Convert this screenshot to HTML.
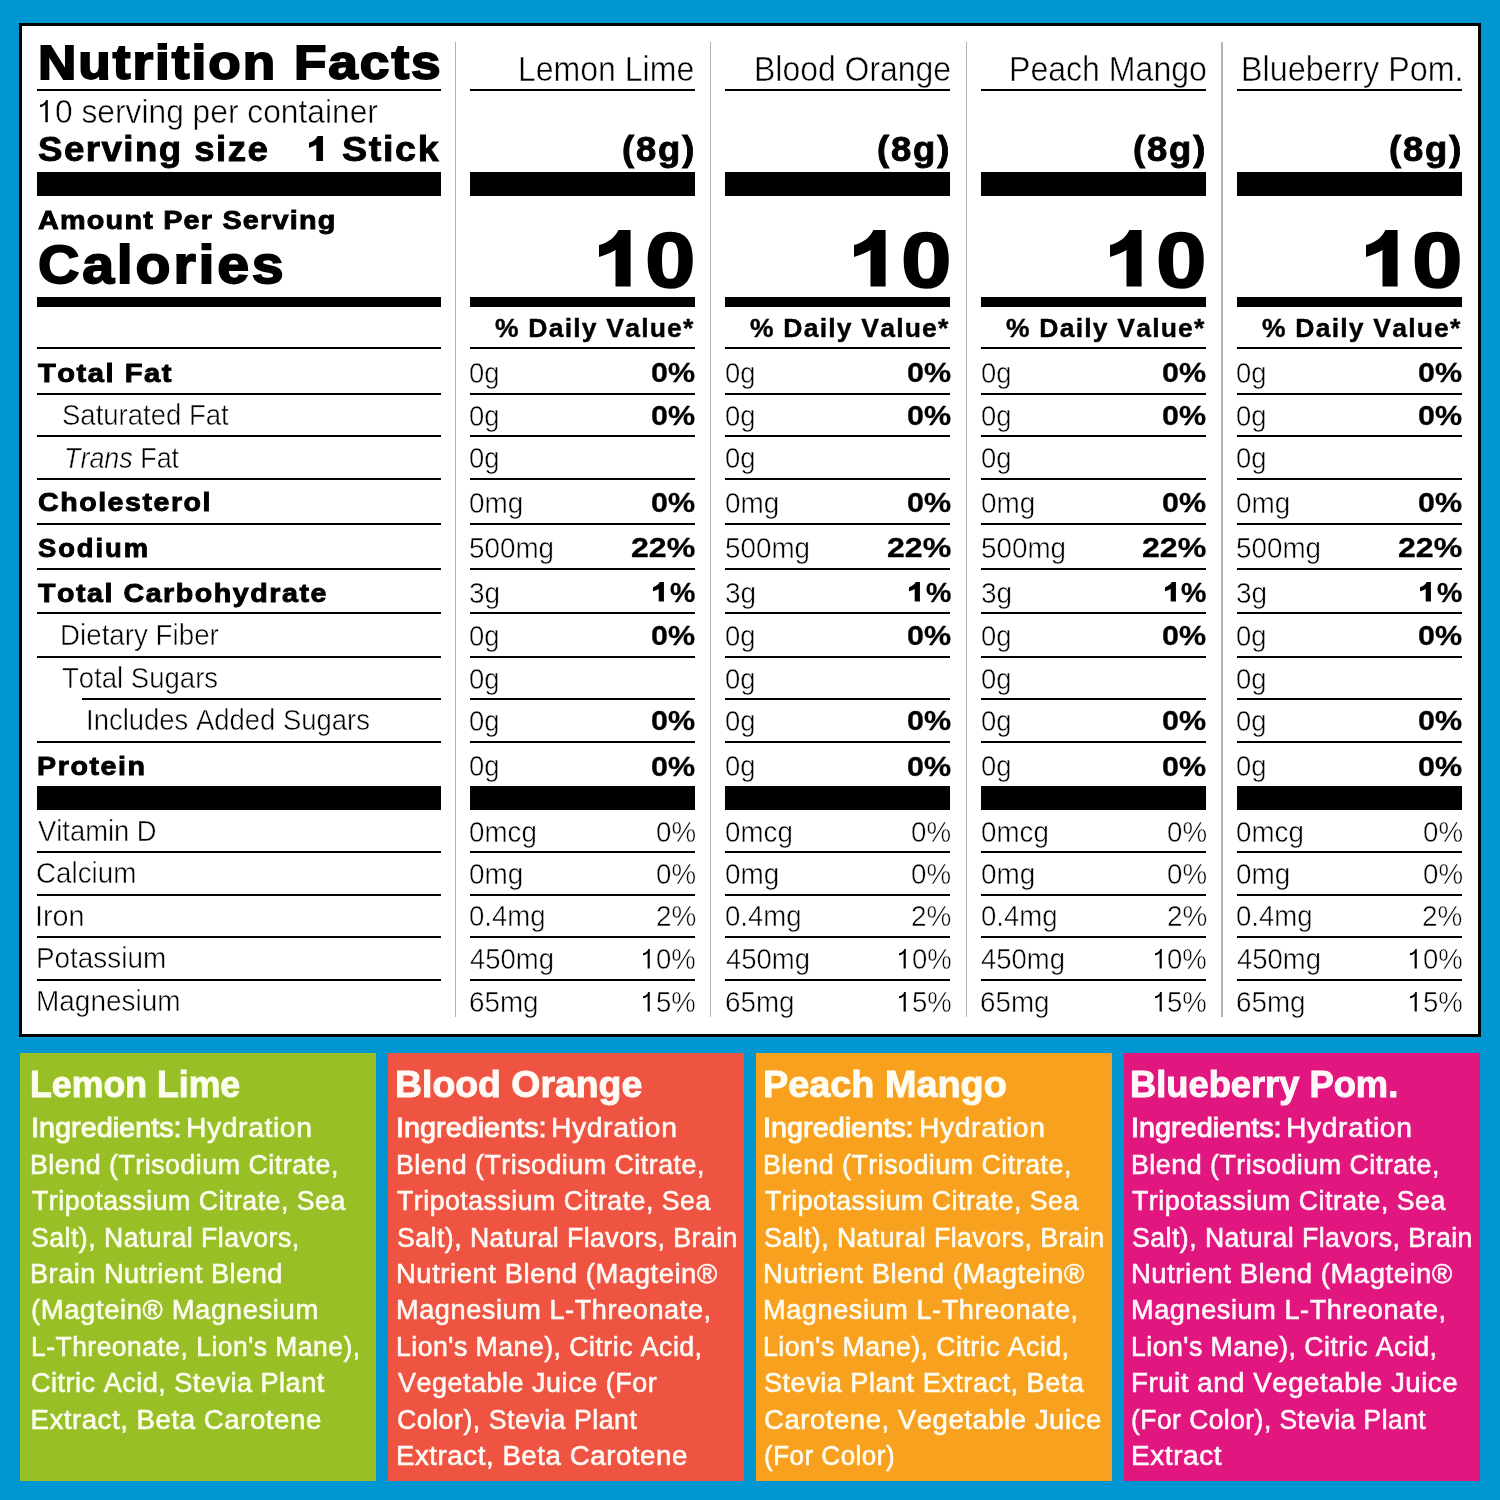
<!DOCTYPE html>
<html><head><meta charset="utf-8"><style>
html,body{margin:0;padding:0;}
body{width:1500px;height:1500px;position:relative;overflow:hidden;background:#0096d1;font-family:"Liberation Sans",sans-serif;color:#000;font-kerning:none;}
.t{position:absolute;white-space:nowrap;transform-origin:0 0;}
#L{position:absolute;left:0;top:0;width:1500px;height:1500px;will-change:transform;}
.b{position:absolute;}
#panel{position:absolute;left:19px;top:23px;width:1456px;height:1008px;border:3px solid #000;background:#fff;}
</style></head><body>
<div id="panel"></div>
<div id="L">
<div class="t" style="left:37.75px;top:38.90px;font-size:47.68px;line-height:47.68px;font-weight:bold;transform:scaleX(1.1139);letter-spacing:1.791px;-webkit-text-stroke:1.80px #000;">Nutrition Facts</div>
<div class="b" style="left:37.00px;top:89.20px;width:403.80px;height:2.20px;background:#000;"></div>
<svg class="b" style="left:38.00px;top:97.70px;" width="11.82" height="26.30" viewBox="38.00 97.70 11.82 26.30"><path d="M47.82,99.70 L46.09,99.70 C45.63,101.88 42.99,104.18 40.00,104.53 L40.00,106.83 C42.64,106.60 44.48,105.45 45.29,104.30 L45.29,122.00 L47.82,122.00 Z" fill="#000"/></svg>
<div class="t" style="left:54.82px;top:95.25px;font-size:32.99px;line-height:32.99px;transform:scaleX(0.9622);-webkit-text-stroke:0.50px #fff;">0 serving per container</div>
<div class="t" style="left:37.81px;top:130.95px;font-size:35.32px;line-height:35.32px;font-weight:bold;transform:scaleX(1.0381);letter-spacing:1.401px;-webkit-text-stroke:0.90px #000;">Serving size</div>
<svg class="b" style="left:307.00px;top:134.10px;" width="18.01" height="29.10" viewBox="307.00 134.10 18.01 29.10"><path d="M317.60,136.10 C316.45,138.81 313.52,141.69 309.00,142.80 L309.00,148.07 C312.19,147.10 314.68,145.94 316.32,144.97 L316.32,161.20 L323.01,161.20 L323.01,136.10 Z" fill="#000"/></svg>
<div class="t" style="left:342.40px;top:130.95px;font-size:35.32px;line-height:35.32px;font-weight:bold;transform:scaleX(1.0641);letter-spacing:1.587px;-webkit-text-stroke:0.90px #000;">Stick</div>
<div class="b" style="left:37.00px;top:172.20px;width:403.80px;height:23.60px;background:#000;"></div>
<div class="t" style="left:37.97px;top:206.75px;font-size:26.60px;line-height:26.60px;font-weight:bold;transform:scaleX(1.0820);letter-spacing:1.125px;-webkit-text-stroke:0.90px #000;">Amount Per Serving</div>
<div class="t" style="left:38.11px;top:238.30px;font-size:53.49px;line-height:53.49px;font-weight:bold;transform:scaleX(1.0722);letter-spacing:2.590px;-webkit-text-stroke:1.80px #000;">Calories</div>
<div class="b" style="left:37.00px;top:297.30px;width:403.80px;height:9.40px;background:#000;"></div>
<div class="b" style="left:37.00px;top:347.20px;width:403.80px;height:2.20px;background:#000;"></div>
<div class="b" style="left:37.00px;top:392.50px;width:403.80px;height:2.20px;background:#000;"></div>
<div class="b" style="left:37.00px;top:434.60px;width:403.80px;height:2.20px;background:#000;"></div>
<div class="b" style="left:37.00px;top:477.60px;width:403.80px;height:2.20px;background:#000;"></div>
<div class="b" style="left:37.00px;top:522.60px;width:403.80px;height:2.20px;background:#000;"></div>
<div class="b" style="left:37.00px;top:567.60px;width:403.80px;height:2.20px;background:#000;"></div>
<div class="b" style="left:37.00px;top:612.20px;width:403.80px;height:2.20px;background:#000;"></div>
<div class="b" style="left:37.00px;top:655.60px;width:403.80px;height:2.20px;background:#000;"></div>
<div class="b" style="left:82.30px;top:698.00px;width:358.50px;height:2.20px;background:#000;"></div>
<div class="b" style="left:37.00px;top:740.60px;width:403.80px;height:2.20px;background:#000;"></div>
<div class="b" style="left:37.00px;top:786.30px;width:403.80px;height:23.40px;background:#000;"></div>
<div class="b" style="left:37.00px;top:850.90px;width:403.80px;height:2.20px;background:#000;"></div>
<div class="b" style="left:37.00px;top:893.60px;width:403.80px;height:2.20px;background:#000;"></div>
<div class="b" style="left:37.00px;top:936.20px;width:403.80px;height:2.20px;background:#000;"></div>
<div class="b" style="left:37.00px;top:978.60px;width:403.80px;height:2.20px;background:#000;"></div>
<div class="t" style="left:38.37px;top:359.75px;font-size:26.60px;line-height:26.60px;font-weight:bold;transform:scaleX(1.0951);letter-spacing:1.374px;-webkit-text-stroke:0.90px #000;">Total Fat</div>
<div class="t" style="left:61.62px;top:400.25px;font-size:29.80px;line-height:29.80px;transform:scaleX(0.9234);-webkit-text-stroke:0.50px #fff;">Saturated Fat</div>
<div class="t" style="left:63.56px;top:442.65px;font-size:29.80px;line-height:29.80px;transform:scaleX(0.9025);-webkit-text-stroke:0.5px #fff;"><i>Trans</i> Fat</div>
<div class="t" style="left:37.51px;top:489.45px;font-size:26.60px;line-height:26.60px;font-weight:bold;transform:scaleX(1.0744);letter-spacing:1.427px;-webkit-text-stroke:0.90px #000;">Cholesterol</div>
<div class="t" style="left:37.87px;top:534.95px;font-size:26.60px;line-height:26.60px;font-weight:bold;transform:scaleX(1.0284);letter-spacing:1.899px;-webkit-text-stroke:0.90px #000;">Sodium</div>
<div class="t" style="left:38.36px;top:579.75px;font-size:26.60px;line-height:26.60px;font-weight:bold;transform:scaleX(1.0764);letter-spacing:1.417px;-webkit-text-stroke:0.90px #000;">Total Carbohydrate</div>
<div class="t" style="left:60.39px;top:620.45px;font-size:29.80px;line-height:29.80px;transform:scaleX(0.9311);-webkit-text-stroke:0.50px #fff;">Dietary Fiber</div>
<div class="t" style="left:62.05px;top:663.25px;font-size:29.80px;line-height:29.80px;transform:scaleX(0.9239);-webkit-text-stroke:0.50px #fff;">Total Sugars</div>
<div class="t" style="left:86.14px;top:705.45px;font-size:29.80px;line-height:29.80px;transform:scaleX(0.9217);-webkit-text-stroke:0.50px #fff;">Includes Added Sugars</div>
<div class="t" style="left:37.17px;top:753.05px;font-size:26.60px;line-height:26.60px;font-weight:bold;transform:scaleX(1.0765);letter-spacing:1.469px;-webkit-text-stroke:0.90px #000;">Protein</div>
<div class="t" style="left:37.75px;top:816.05px;font-size:29.80px;line-height:29.80px;transform:scaleX(0.9182);-webkit-text-stroke:0.50px #fff;">Vitamin D</div>
<div class="t" style="left:36.45px;top:858.45px;font-size:29.80px;line-height:29.80px;transform:scaleX(0.9330);-webkit-text-stroke:0.50px #fff;">Calcium</div>
<div class="t" style="left:35.20px;top:900.85px;font-size:29.80px;line-height:29.80px;transform:scaleX(0.9662);-webkit-text-stroke:0.50px #fff;">Iron</div>
<div class="t" style="left:35.58px;top:943.25px;font-size:29.80px;line-height:29.80px;transform:scaleX(0.9359);-webkit-text-stroke:0.50px #fff;">Potassium</div>
<div class="t" style="left:35.57px;top:986.15px;font-size:29.80px;line-height:29.80px;transform:scaleX(0.9382);-webkit-text-stroke:0.50px #fff;">Magnesium</div>
<div class="b" style="left:454.60px;top:41.70px;width:1.20px;height:975.50px;background:#b4b4b4;"></div>
<div class="b" style="left:710.10px;top:41.70px;width:1.20px;height:975.50px;background:#b4b4b4;"></div>
<div class="b" style="left:965.80px;top:41.70px;width:1.20px;height:975.50px;background:#b4b4b4;"></div>
<div class="b" style="left:1221.40px;top:41.70px;width:1.20px;height:975.50px;background:#b4b4b4;"></div>
<div class="t" style="left:518.44px;top:52.25px;font-size:34.16px;line-height:34.16px;transform:scaleX(0.9375);-webkit-text-stroke:0.50px #fff;">Lemon Lime</div>
<div class="b" style="left:469.70px;top:89.20px;width:225.00px;height:2.20px;background:#000;"></div>
<div class="t" style="left:621.67px;top:132.15px;font-size:34.18px;line-height:34.18px;font-weight:bold;transform:scaleX(1.0646);letter-spacing:1.743px;-webkit-text-stroke:0.90px #000;">(8g)</div>
<div class="b" style="left:469.70px;top:172.20px;width:225.00px;height:23.60px;background:#000;"></div>
<svg class="b" style="left:596.80px;top:228.40px;" width="35.60" height="60.60" viewBox="596.80 228.40 35.60 60.60"><path d="M618.20,230.40 C615.60,236.50 609.00,243.00 598.80,245.50 L598.80,257.40 C606.00,255.20 611.60,252.60 615.30,250.40 L615.30,287.00 L630.40,287.00 L630.40,230.40 Z" fill="#000"/></svg>
<div class="t" style="left:644.94px;top:221.80px;font-size:77.97px;line-height:77.97px;font-weight:bold;transform:scaleX(1.1660);-webkit-text-stroke:1.60px #000;">0</div>
<div class="b" style="left:469.70px;top:297.30px;width:225.00px;height:9.40px;background:#000;"></div>
<div class="t" style="left:494.75px;top:315.80px;font-size:25.00px;line-height:25.00px;font-weight:bold;transform:scaleX(1.0592);letter-spacing:1.151px;-webkit-text-stroke:0.40px #000;">% Daily Value*</div>
<div class="b" style="left:469.70px;top:347.20px;width:225.00px;height:2.20px;background:#000;"></div>
<div class="b" style="left:469.70px;top:392.50px;width:225.00px;height:2.20px;background:#000;"></div>
<div class="b" style="left:469.70px;top:434.60px;width:225.00px;height:2.20px;background:#000;"></div>
<div class="b" style="left:469.70px;top:477.60px;width:225.00px;height:2.20px;background:#000;"></div>
<div class="b" style="left:469.70px;top:522.60px;width:225.00px;height:2.20px;background:#000;"></div>
<div class="b" style="left:469.70px;top:567.60px;width:225.00px;height:2.20px;background:#000;"></div>
<div class="b" style="left:469.70px;top:612.20px;width:225.00px;height:2.20px;background:#000;"></div>
<div class="b" style="left:469.70px;top:655.60px;width:225.00px;height:2.20px;background:#000;"></div>
<div class="b" style="left:469.70px;top:698.00px;width:225.00px;height:2.20px;background:#000;"></div>
<div class="b" style="left:469.70px;top:740.60px;width:225.00px;height:2.20px;background:#000;"></div>
<div class="b" style="left:469.70px;top:786.30px;width:225.00px;height:23.40px;background:#000;"></div>
<div class="b" style="left:469.70px;top:850.90px;width:225.00px;height:2.20px;background:#000;"></div>
<div class="b" style="left:469.70px;top:893.60px;width:225.00px;height:2.20px;background:#000;"></div>
<div class="b" style="left:469.70px;top:936.20px;width:225.00px;height:2.20px;background:#000;"></div>
<div class="b" style="left:469.70px;top:978.60px;width:225.00px;height:2.20px;background:#000;"></div>
<div class="t" style="left:469.49px;top:358.85px;font-size:28.67px;line-height:28.67px;transform:scaleX(0.9569);-webkit-text-stroke:0.50px #fff;">0g</div>
<div class="t" style="left:651.26px;top:359.25px;font-size:27.82px;line-height:27.82px;font-weight:bold;transform:scaleX(1.0961);-webkit-text-stroke:0.30px #000;">0%</div>
<div class="t" style="left:469.49px;top:401.65px;font-size:28.67px;line-height:28.67px;transform:scaleX(0.9569);-webkit-text-stroke:0.50px #fff;">0g</div>
<div class="t" style="left:651.26px;top:402.05px;font-size:27.82px;line-height:27.82px;font-weight:bold;transform:scaleX(1.0961);-webkit-text-stroke:0.30px #000;">0%</div>
<div class="t" style="left:469.49px;top:444.05px;font-size:28.67px;line-height:28.67px;transform:scaleX(0.9569);-webkit-text-stroke:0.50px #fff;">0g</div>
<div class="t" style="left:469.46px;top:488.55px;font-size:28.67px;line-height:28.67px;transform:scaleX(0.9750);-webkit-text-stroke:0.50px #fff;">0mg</div>
<div class="t" style="left:651.26px;top:488.95px;font-size:27.82px;line-height:27.82px;font-weight:bold;transform:scaleX(1.0961);-webkit-text-stroke:0.30px #000;">0%</div>
<div class="t" style="left:469.44px;top:534.05px;font-size:28.67px;line-height:28.67px;transform:scaleX(0.9706);-webkit-text-stroke:0.50px #fff;">500mg</div>
<div class="t" style="left:631.06px;top:534.45px;font-size:27.82px;line-height:27.82px;font-weight:bold;transform:scaleX(1.1549);-webkit-text-stroke:0.30px #000;">22%</div>
<div class="t" style="left:469.49px;top:578.85px;font-size:28.67px;line-height:28.67px;transform:scaleX(0.9771);-webkit-text-stroke:0.50px #fff;">3g</div>
<svg class="b" style="left:651.30px;top:580.40px;" width="14.94" height="23.60" viewBox="651.30 580.40 14.94 23.60"><path d="M660.02,582.40 C659.12,584.51 656.83,586.76 653.30,587.63 L653.30,591.75 C655.79,590.99 657.73,590.09 659.01,589.33 L659.01,602.00 L664.24,602.00 L664.24,582.40 Z" fill="#000"/></svg>
<div class="t" style="left:669.94px;top:579.25px;font-size:27.82px;line-height:27.82px;font-weight:bold;transform:scaleX(1.0248);-webkit-text-stroke:0.30px #000;">%</div>
<div class="t" style="left:469.49px;top:621.85px;font-size:28.67px;line-height:28.67px;transform:scaleX(0.9569);-webkit-text-stroke:0.50px #fff;">0g</div>
<div class="t" style="left:651.26px;top:622.25px;font-size:27.82px;line-height:27.82px;font-weight:bold;transform:scaleX(1.0961);-webkit-text-stroke:0.30px #000;">0%</div>
<div class="t" style="left:469.49px;top:664.65px;font-size:28.67px;line-height:28.67px;transform:scaleX(0.9569);-webkit-text-stroke:0.50px #fff;">0g</div>
<div class="t" style="left:469.49px;top:706.85px;font-size:28.67px;line-height:28.67px;transform:scaleX(0.9569);-webkit-text-stroke:0.50px #fff;">0g</div>
<div class="t" style="left:651.26px;top:707.25px;font-size:27.82px;line-height:27.82px;font-weight:bold;transform:scaleX(1.0961);-webkit-text-stroke:0.30px #000;">0%</div>
<div class="t" style="left:469.49px;top:752.15px;font-size:28.67px;line-height:28.67px;transform:scaleX(0.9569);-webkit-text-stroke:0.50px #fff;">0g</div>
<div class="t" style="left:651.26px;top:752.55px;font-size:27.82px;line-height:27.82px;font-weight:bold;transform:scaleX(1.0961);-webkit-text-stroke:0.30px #000;">0%</div>
<div class="t" style="left:469.47px;top:817.65px;font-size:28.67px;line-height:28.67px;transform:scaleX(0.9678);-webkit-text-stroke:0.50px #fff;">0mcg</div>
<div class="t" style="left:655.88px;top:817.65px;font-size:28.67px;line-height:28.67px;transform:scaleX(0.9665);-webkit-text-stroke:0.50px #fff;">0%</div>
<div class="t" style="left:469.46px;top:860.05px;font-size:28.67px;line-height:28.67px;transform:scaleX(0.9750);-webkit-text-stroke:0.50px #fff;">0mg</div>
<div class="t" style="left:655.88px;top:860.05px;font-size:28.67px;line-height:28.67px;transform:scaleX(0.9665);-webkit-text-stroke:0.50px #fff;">0%</div>
<div class="t" style="left:469.48px;top:902.45px;font-size:28.67px;line-height:28.67px;transform:scaleX(0.9630);-webkit-text-stroke:0.50px #fff;">0.4mg</div>
<div class="t" style="left:655.55px;top:902.45px;font-size:28.67px;line-height:28.67px;transform:scaleX(0.9746);-webkit-text-stroke:0.50px #fff;">2%</div>
<div class="t" style="left:469.93px;top:944.85px;font-size:28.67px;line-height:28.67px;transform:scaleX(0.9591);-webkit-text-stroke:0.50px #fff;">450mg</div>
<svg class="b" style="left:641.40px;top:947.20px;" width="10.80" height="23.40" viewBox="641.40 947.20 10.80 23.40"><path d="M650.20,949.20 L648.70,949.20 C648.30,951.10 646.00,953.10 643.40,953.40 L643.40,955.40 C645.70,955.20 647.30,954.20 648.00,953.20 L648.00,968.60 L650.20,968.60 Z" fill="#000"/></svg>
<div class="t" style="left:656.08px;top:944.85px;font-size:28.67px;line-height:28.67px;transform:scaleX(0.9614);-webkit-text-stroke:0.50px #fff;">0%</div>
<div class="t" style="left:469.14px;top:987.75px;font-size:28.67px;line-height:28.67px;transform:scaleX(0.9703);-webkit-text-stroke:0.50px #fff;">65mg</div>
<svg class="b" style="left:641.40px;top:990.10px;" width="10.80" height="23.40" viewBox="641.40 990.10 10.80 23.40"><path d="M650.20,992.10 L648.70,992.10 C648.30,994.00 646.00,996.00 643.40,996.30 L643.40,998.30 C645.70,998.10 647.30,997.10 648.00,996.10 L648.00,1011.50 L650.20,1011.50 Z" fill="#000"/></svg>
<div class="t" style="left:656.06px;top:987.75px;font-size:28.67px;line-height:28.67px;transform:scaleX(0.9621);-webkit-text-stroke:0.50px #fff;">5%</div>
<div class="t" style="left:753.55px;top:52.25px;font-size:34.16px;line-height:34.16px;transform:scaleX(0.9351);-webkit-text-stroke:0.50px #fff;">Blood Orange</div>
<div class="b" style="left:725.30px;top:89.20px;width:225.00px;height:2.20px;background:#000;"></div>
<div class="t" style="left:877.27px;top:132.15px;font-size:34.18px;line-height:34.18px;font-weight:bold;transform:scaleX(1.0646);letter-spacing:1.743px;-webkit-text-stroke:0.90px #000;">(8g)</div>
<div class="b" style="left:725.30px;top:172.20px;width:225.00px;height:23.60px;background:#000;"></div>
<svg class="b" style="left:852.40px;top:228.40px;" width="35.60" height="60.60" viewBox="852.40 228.40 35.60 60.60"><path d="M873.80,230.40 C871.20,236.50 864.60,243.00 854.40,245.50 L854.40,257.40 C861.60,255.20 867.20,252.60 870.90,250.40 L870.90,287.00 L886.00,287.00 L886.00,230.40 Z" fill="#000"/></svg>
<div class="t" style="left:900.54px;top:221.80px;font-size:77.97px;line-height:77.97px;font-weight:bold;transform:scaleX(1.1660);-webkit-text-stroke:1.60px #000;">0</div>
<div class="b" style="left:725.30px;top:297.30px;width:225.00px;height:9.40px;background:#000;"></div>
<div class="t" style="left:750.35px;top:315.80px;font-size:25.00px;line-height:25.00px;font-weight:bold;transform:scaleX(1.0592);letter-spacing:1.151px;-webkit-text-stroke:0.40px #000;">% Daily Value*</div>
<div class="b" style="left:725.30px;top:347.20px;width:225.00px;height:2.20px;background:#000;"></div>
<div class="b" style="left:725.30px;top:392.50px;width:225.00px;height:2.20px;background:#000;"></div>
<div class="b" style="left:725.30px;top:434.60px;width:225.00px;height:2.20px;background:#000;"></div>
<div class="b" style="left:725.30px;top:477.60px;width:225.00px;height:2.20px;background:#000;"></div>
<div class="b" style="left:725.30px;top:522.60px;width:225.00px;height:2.20px;background:#000;"></div>
<div class="b" style="left:725.30px;top:567.60px;width:225.00px;height:2.20px;background:#000;"></div>
<div class="b" style="left:725.30px;top:612.20px;width:225.00px;height:2.20px;background:#000;"></div>
<div class="b" style="left:725.30px;top:655.60px;width:225.00px;height:2.20px;background:#000;"></div>
<div class="b" style="left:725.30px;top:698.00px;width:225.00px;height:2.20px;background:#000;"></div>
<div class="b" style="left:725.30px;top:740.60px;width:225.00px;height:2.20px;background:#000;"></div>
<div class="b" style="left:725.30px;top:786.30px;width:225.00px;height:23.40px;background:#000;"></div>
<div class="b" style="left:725.30px;top:850.90px;width:225.00px;height:2.20px;background:#000;"></div>
<div class="b" style="left:725.30px;top:893.60px;width:225.00px;height:2.20px;background:#000;"></div>
<div class="b" style="left:725.30px;top:936.20px;width:225.00px;height:2.20px;background:#000;"></div>
<div class="b" style="left:725.30px;top:978.60px;width:225.00px;height:2.20px;background:#000;"></div>
<div class="t" style="left:725.09px;top:358.85px;font-size:28.67px;line-height:28.67px;transform:scaleX(0.9569);-webkit-text-stroke:0.50px #fff;">0g</div>
<div class="t" style="left:906.86px;top:359.25px;font-size:27.82px;line-height:27.82px;font-weight:bold;transform:scaleX(1.0961);-webkit-text-stroke:0.30px #000;">0%</div>
<div class="t" style="left:725.09px;top:401.65px;font-size:28.67px;line-height:28.67px;transform:scaleX(0.9569);-webkit-text-stroke:0.50px #fff;">0g</div>
<div class="t" style="left:906.86px;top:402.05px;font-size:27.82px;line-height:27.82px;font-weight:bold;transform:scaleX(1.0961);-webkit-text-stroke:0.30px #000;">0%</div>
<div class="t" style="left:725.09px;top:444.05px;font-size:28.67px;line-height:28.67px;transform:scaleX(0.9569);-webkit-text-stroke:0.50px #fff;">0g</div>
<div class="t" style="left:725.06px;top:488.55px;font-size:28.67px;line-height:28.67px;transform:scaleX(0.9750);-webkit-text-stroke:0.50px #fff;">0mg</div>
<div class="t" style="left:906.86px;top:488.95px;font-size:27.82px;line-height:27.82px;font-weight:bold;transform:scaleX(1.0961);-webkit-text-stroke:0.30px #000;">0%</div>
<div class="t" style="left:725.04px;top:534.05px;font-size:28.67px;line-height:28.67px;transform:scaleX(0.9706);-webkit-text-stroke:0.50px #fff;">500mg</div>
<div class="t" style="left:886.66px;top:534.45px;font-size:27.82px;line-height:27.82px;font-weight:bold;transform:scaleX(1.1549);-webkit-text-stroke:0.30px #000;">22%</div>
<div class="t" style="left:725.09px;top:578.85px;font-size:28.67px;line-height:28.67px;transform:scaleX(0.9771);-webkit-text-stroke:0.50px #fff;">3g</div>
<svg class="b" style="left:906.90px;top:580.40px;" width="14.94" height="23.60" viewBox="906.90 580.40 14.94 23.60"><path d="M915.62,582.40 C914.72,584.51 912.43,586.76 908.90,587.63 L908.90,591.75 C911.39,590.99 913.33,590.09 914.61,589.33 L914.61,602.00 L919.84,602.00 L919.84,582.40 Z" fill="#000"/></svg>
<div class="t" style="left:925.54px;top:579.25px;font-size:27.82px;line-height:27.82px;font-weight:bold;transform:scaleX(1.0248);-webkit-text-stroke:0.30px #000;">%</div>
<div class="t" style="left:725.09px;top:621.85px;font-size:28.67px;line-height:28.67px;transform:scaleX(0.9569);-webkit-text-stroke:0.50px #fff;">0g</div>
<div class="t" style="left:906.86px;top:622.25px;font-size:27.82px;line-height:27.82px;font-weight:bold;transform:scaleX(1.0961);-webkit-text-stroke:0.30px #000;">0%</div>
<div class="t" style="left:725.09px;top:664.65px;font-size:28.67px;line-height:28.67px;transform:scaleX(0.9569);-webkit-text-stroke:0.50px #fff;">0g</div>
<div class="t" style="left:725.09px;top:706.85px;font-size:28.67px;line-height:28.67px;transform:scaleX(0.9569);-webkit-text-stroke:0.50px #fff;">0g</div>
<div class="t" style="left:906.86px;top:707.25px;font-size:27.82px;line-height:27.82px;font-weight:bold;transform:scaleX(1.0961);-webkit-text-stroke:0.30px #000;">0%</div>
<div class="t" style="left:725.09px;top:752.15px;font-size:28.67px;line-height:28.67px;transform:scaleX(0.9569);-webkit-text-stroke:0.50px #fff;">0g</div>
<div class="t" style="left:906.86px;top:752.55px;font-size:27.82px;line-height:27.82px;font-weight:bold;transform:scaleX(1.0961);-webkit-text-stroke:0.30px #000;">0%</div>
<div class="t" style="left:725.07px;top:817.65px;font-size:28.67px;line-height:28.67px;transform:scaleX(0.9678);-webkit-text-stroke:0.50px #fff;">0mcg</div>
<div class="t" style="left:911.48px;top:817.65px;font-size:28.67px;line-height:28.67px;transform:scaleX(0.9665);-webkit-text-stroke:0.50px #fff;">0%</div>
<div class="t" style="left:725.06px;top:860.05px;font-size:28.67px;line-height:28.67px;transform:scaleX(0.9750);-webkit-text-stroke:0.50px #fff;">0mg</div>
<div class="t" style="left:911.48px;top:860.05px;font-size:28.67px;line-height:28.67px;transform:scaleX(0.9665);-webkit-text-stroke:0.50px #fff;">0%</div>
<div class="t" style="left:725.08px;top:902.45px;font-size:28.67px;line-height:28.67px;transform:scaleX(0.9630);-webkit-text-stroke:0.50px #fff;">0.4mg</div>
<div class="t" style="left:911.15px;top:902.45px;font-size:28.67px;line-height:28.67px;transform:scaleX(0.9746);-webkit-text-stroke:0.50px #fff;">2%</div>
<div class="t" style="left:725.53px;top:944.85px;font-size:28.67px;line-height:28.67px;transform:scaleX(0.9591);-webkit-text-stroke:0.50px #fff;">450mg</div>
<svg class="b" style="left:897.00px;top:947.20px;" width="10.80" height="23.40" viewBox="897.00 947.20 10.80 23.40"><path d="M905.80,949.20 L904.30,949.20 C903.90,951.10 901.60,953.10 899.00,953.40 L899.00,955.40 C901.30,955.20 902.90,954.20 903.60,953.20 L903.60,968.60 L905.80,968.60 Z" fill="#000"/></svg>
<div class="t" style="left:911.68px;top:944.85px;font-size:28.67px;line-height:28.67px;transform:scaleX(0.9614);-webkit-text-stroke:0.50px #fff;">0%</div>
<div class="t" style="left:724.74px;top:987.75px;font-size:28.67px;line-height:28.67px;transform:scaleX(0.9703);-webkit-text-stroke:0.50px #fff;">65mg</div>
<svg class="b" style="left:897.00px;top:990.10px;" width="10.80" height="23.40" viewBox="897.00 990.10 10.80 23.40"><path d="M905.80,992.10 L904.30,992.10 C903.90,994.00 901.60,996.00 899.00,996.30 L899.00,998.30 C901.30,998.10 902.90,997.10 903.60,996.10 L903.60,1011.50 L905.80,1011.50 Z" fill="#000"/></svg>
<div class="t" style="left:911.66px;top:987.75px;font-size:28.67px;line-height:28.67px;transform:scaleX(0.9621);-webkit-text-stroke:0.50px #fff;">5%</div>
<div class="t" style="left:1008.63px;top:52.25px;font-size:34.16px;line-height:34.16px;transform:scaleX(0.9391);-webkit-text-stroke:0.50px #fff;">Peach Mango</div>
<div class="b" style="left:980.90px;top:89.20px;width:225.00px;height:2.20px;background:#000;"></div>
<div class="t" style="left:1132.87px;top:132.15px;font-size:34.18px;line-height:34.18px;font-weight:bold;transform:scaleX(1.0646);letter-spacing:1.743px;-webkit-text-stroke:0.90px #000;">(8g)</div>
<div class="b" style="left:980.90px;top:172.20px;width:225.00px;height:23.60px;background:#000;"></div>
<svg class="b" style="left:1108.00px;top:228.40px;" width="35.60" height="60.60" viewBox="1108.00 228.40 35.60 60.60"><path d="M1129.40,230.40 C1126.80,236.50 1120.20,243.00 1110.00,245.50 L1110.00,257.40 C1117.20,255.20 1122.80,252.60 1126.50,250.40 L1126.50,287.00 L1141.60,287.00 L1141.60,230.40 Z" fill="#000"/></svg>
<div class="t" style="left:1156.14px;top:221.80px;font-size:77.97px;line-height:77.97px;font-weight:bold;transform:scaleX(1.1660);-webkit-text-stroke:1.60px #000;">0</div>
<div class="b" style="left:980.90px;top:297.30px;width:225.00px;height:9.40px;background:#000;"></div>
<div class="t" style="left:1005.95px;top:315.80px;font-size:25.00px;line-height:25.00px;font-weight:bold;transform:scaleX(1.0592);letter-spacing:1.151px;-webkit-text-stroke:0.40px #000;">% Daily Value*</div>
<div class="b" style="left:980.90px;top:347.20px;width:225.00px;height:2.20px;background:#000;"></div>
<div class="b" style="left:980.90px;top:392.50px;width:225.00px;height:2.20px;background:#000;"></div>
<div class="b" style="left:980.90px;top:434.60px;width:225.00px;height:2.20px;background:#000;"></div>
<div class="b" style="left:980.90px;top:477.60px;width:225.00px;height:2.20px;background:#000;"></div>
<div class="b" style="left:980.90px;top:522.60px;width:225.00px;height:2.20px;background:#000;"></div>
<div class="b" style="left:980.90px;top:567.60px;width:225.00px;height:2.20px;background:#000;"></div>
<div class="b" style="left:980.90px;top:612.20px;width:225.00px;height:2.20px;background:#000;"></div>
<div class="b" style="left:980.90px;top:655.60px;width:225.00px;height:2.20px;background:#000;"></div>
<div class="b" style="left:980.90px;top:698.00px;width:225.00px;height:2.20px;background:#000;"></div>
<div class="b" style="left:980.90px;top:740.60px;width:225.00px;height:2.20px;background:#000;"></div>
<div class="b" style="left:980.90px;top:786.30px;width:225.00px;height:23.40px;background:#000;"></div>
<div class="b" style="left:980.90px;top:850.90px;width:225.00px;height:2.20px;background:#000;"></div>
<div class="b" style="left:980.90px;top:893.60px;width:225.00px;height:2.20px;background:#000;"></div>
<div class="b" style="left:980.90px;top:936.20px;width:225.00px;height:2.20px;background:#000;"></div>
<div class="b" style="left:980.90px;top:978.60px;width:225.00px;height:2.20px;background:#000;"></div>
<div class="t" style="left:980.69px;top:358.85px;font-size:28.67px;line-height:28.67px;transform:scaleX(0.9569);-webkit-text-stroke:0.50px #fff;">0g</div>
<div class="t" style="left:1162.46px;top:359.25px;font-size:27.82px;line-height:27.82px;font-weight:bold;transform:scaleX(1.0961);-webkit-text-stroke:0.30px #000;">0%</div>
<div class="t" style="left:980.69px;top:401.65px;font-size:28.67px;line-height:28.67px;transform:scaleX(0.9569);-webkit-text-stroke:0.50px #fff;">0g</div>
<div class="t" style="left:1162.46px;top:402.05px;font-size:27.82px;line-height:27.82px;font-weight:bold;transform:scaleX(1.0961);-webkit-text-stroke:0.30px #000;">0%</div>
<div class="t" style="left:980.69px;top:444.05px;font-size:28.67px;line-height:28.67px;transform:scaleX(0.9569);-webkit-text-stroke:0.50px #fff;">0g</div>
<div class="t" style="left:980.66px;top:488.55px;font-size:28.67px;line-height:28.67px;transform:scaleX(0.9750);-webkit-text-stroke:0.50px #fff;">0mg</div>
<div class="t" style="left:1162.46px;top:488.95px;font-size:27.82px;line-height:27.82px;font-weight:bold;transform:scaleX(1.0961);-webkit-text-stroke:0.30px #000;">0%</div>
<div class="t" style="left:980.64px;top:534.05px;font-size:28.67px;line-height:28.67px;transform:scaleX(0.9706);-webkit-text-stroke:0.50px #fff;">500mg</div>
<div class="t" style="left:1142.26px;top:534.45px;font-size:27.82px;line-height:27.82px;font-weight:bold;transform:scaleX(1.1549);-webkit-text-stroke:0.30px #000;">22%</div>
<div class="t" style="left:980.69px;top:578.85px;font-size:28.67px;line-height:28.67px;transform:scaleX(0.9771);-webkit-text-stroke:0.50px #fff;">3g</div>
<svg class="b" style="left:1162.50px;top:580.40px;" width="14.94" height="23.60" viewBox="1162.50 580.40 14.94 23.60"><path d="M1171.22,582.40 C1170.32,584.51 1168.03,586.76 1164.50,587.63 L1164.50,591.75 C1166.99,590.99 1168.93,590.09 1170.21,589.33 L1170.21,602.00 L1175.44,602.00 L1175.44,582.40 Z" fill="#000"/></svg>
<div class="t" style="left:1181.14px;top:579.25px;font-size:27.82px;line-height:27.82px;font-weight:bold;transform:scaleX(1.0248);-webkit-text-stroke:0.30px #000;">%</div>
<div class="t" style="left:980.69px;top:621.85px;font-size:28.67px;line-height:28.67px;transform:scaleX(0.9569);-webkit-text-stroke:0.50px #fff;">0g</div>
<div class="t" style="left:1162.46px;top:622.25px;font-size:27.82px;line-height:27.82px;font-weight:bold;transform:scaleX(1.0961);-webkit-text-stroke:0.30px #000;">0%</div>
<div class="t" style="left:980.69px;top:664.65px;font-size:28.67px;line-height:28.67px;transform:scaleX(0.9569);-webkit-text-stroke:0.50px #fff;">0g</div>
<div class="t" style="left:980.69px;top:706.85px;font-size:28.67px;line-height:28.67px;transform:scaleX(0.9569);-webkit-text-stroke:0.50px #fff;">0g</div>
<div class="t" style="left:1162.46px;top:707.25px;font-size:27.82px;line-height:27.82px;font-weight:bold;transform:scaleX(1.0961);-webkit-text-stroke:0.30px #000;">0%</div>
<div class="t" style="left:980.69px;top:752.15px;font-size:28.67px;line-height:28.67px;transform:scaleX(0.9569);-webkit-text-stroke:0.50px #fff;">0g</div>
<div class="t" style="left:1162.46px;top:752.55px;font-size:27.82px;line-height:27.82px;font-weight:bold;transform:scaleX(1.0961);-webkit-text-stroke:0.30px #000;">0%</div>
<div class="t" style="left:980.67px;top:817.65px;font-size:28.67px;line-height:28.67px;transform:scaleX(0.9678);-webkit-text-stroke:0.50px #fff;">0mcg</div>
<div class="t" style="left:1167.08px;top:817.65px;font-size:28.67px;line-height:28.67px;transform:scaleX(0.9665);-webkit-text-stroke:0.50px #fff;">0%</div>
<div class="t" style="left:980.66px;top:860.05px;font-size:28.67px;line-height:28.67px;transform:scaleX(0.9750);-webkit-text-stroke:0.50px #fff;">0mg</div>
<div class="t" style="left:1167.08px;top:860.05px;font-size:28.67px;line-height:28.67px;transform:scaleX(0.9665);-webkit-text-stroke:0.50px #fff;">0%</div>
<div class="t" style="left:980.68px;top:902.45px;font-size:28.67px;line-height:28.67px;transform:scaleX(0.9630);-webkit-text-stroke:0.50px #fff;">0.4mg</div>
<div class="t" style="left:1166.75px;top:902.45px;font-size:28.67px;line-height:28.67px;transform:scaleX(0.9746);-webkit-text-stroke:0.50px #fff;">2%</div>
<div class="t" style="left:981.13px;top:944.85px;font-size:28.67px;line-height:28.67px;transform:scaleX(0.9591);-webkit-text-stroke:0.50px #fff;">450mg</div>
<svg class="b" style="left:1152.60px;top:947.20px;" width="10.80" height="23.40" viewBox="1152.60 947.20 10.80 23.40"><path d="M1161.40,949.20 L1159.90,949.20 C1159.50,951.10 1157.20,953.10 1154.60,953.40 L1154.60,955.40 C1156.90,955.20 1158.50,954.20 1159.20,953.20 L1159.20,968.60 L1161.40,968.60 Z" fill="#000"/></svg>
<div class="t" style="left:1167.28px;top:944.85px;font-size:28.67px;line-height:28.67px;transform:scaleX(0.9614);-webkit-text-stroke:0.50px #fff;">0%</div>
<div class="t" style="left:980.34px;top:987.75px;font-size:28.67px;line-height:28.67px;transform:scaleX(0.9703);-webkit-text-stroke:0.50px #fff;">65mg</div>
<svg class="b" style="left:1152.60px;top:990.10px;" width="10.80" height="23.40" viewBox="1152.60 990.10 10.80 23.40"><path d="M1161.40,992.10 L1159.90,992.10 C1159.50,994.00 1157.20,996.00 1154.60,996.30 L1154.60,998.30 C1156.90,998.10 1158.50,997.10 1159.20,996.10 L1159.20,1011.50 L1161.40,1011.50 Z" fill="#000"/></svg>
<div class="t" style="left:1167.26px;top:987.75px;font-size:28.67px;line-height:28.67px;transform:scaleX(0.9621);-webkit-text-stroke:0.50px #fff;">5%</div>
<div class="t" style="left:1240.61px;top:52.25px;font-size:34.16px;line-height:34.16px;transform:scaleX(0.9455);-webkit-text-stroke:0.50px #fff;">Blueberry Pom.</div>
<div class="b" style="left:1236.60px;top:89.20px;width:225.00px;height:2.20px;background:#000;"></div>
<div class="t" style="left:1388.57px;top:132.15px;font-size:34.18px;line-height:34.18px;font-weight:bold;transform:scaleX(1.0646);letter-spacing:1.743px;-webkit-text-stroke:0.90px #000;">(8g)</div>
<div class="b" style="left:1236.60px;top:172.20px;width:225.00px;height:23.60px;background:#000;"></div>
<svg class="b" style="left:1363.70px;top:228.40px;" width="35.60" height="60.60" viewBox="1363.70 228.40 35.60 60.60"><path d="M1385.10,230.40 C1382.50,236.50 1375.90,243.00 1365.70,245.50 L1365.70,257.40 C1372.90,255.20 1378.50,252.60 1382.20,250.40 L1382.20,287.00 L1397.30,287.00 L1397.30,230.40 Z" fill="#000"/></svg>
<div class="t" style="left:1411.84px;top:221.80px;font-size:77.97px;line-height:77.97px;font-weight:bold;transform:scaleX(1.1660);-webkit-text-stroke:1.60px #000;">0</div>
<div class="b" style="left:1236.60px;top:297.30px;width:225.00px;height:9.40px;background:#000;"></div>
<div class="t" style="left:1261.65px;top:315.80px;font-size:25.00px;line-height:25.00px;font-weight:bold;transform:scaleX(1.0592);letter-spacing:1.151px;-webkit-text-stroke:0.40px #000;">% Daily Value*</div>
<div class="b" style="left:1236.60px;top:347.20px;width:225.00px;height:2.20px;background:#000;"></div>
<div class="b" style="left:1236.60px;top:392.50px;width:225.00px;height:2.20px;background:#000;"></div>
<div class="b" style="left:1236.60px;top:434.60px;width:225.00px;height:2.20px;background:#000;"></div>
<div class="b" style="left:1236.60px;top:477.60px;width:225.00px;height:2.20px;background:#000;"></div>
<div class="b" style="left:1236.60px;top:522.60px;width:225.00px;height:2.20px;background:#000;"></div>
<div class="b" style="left:1236.60px;top:567.60px;width:225.00px;height:2.20px;background:#000;"></div>
<div class="b" style="left:1236.60px;top:612.20px;width:225.00px;height:2.20px;background:#000;"></div>
<div class="b" style="left:1236.60px;top:655.60px;width:225.00px;height:2.20px;background:#000;"></div>
<div class="b" style="left:1236.60px;top:698.00px;width:225.00px;height:2.20px;background:#000;"></div>
<div class="b" style="left:1236.60px;top:740.60px;width:225.00px;height:2.20px;background:#000;"></div>
<div class="b" style="left:1236.60px;top:786.30px;width:225.00px;height:23.40px;background:#000;"></div>
<div class="b" style="left:1236.60px;top:850.90px;width:225.00px;height:2.20px;background:#000;"></div>
<div class="b" style="left:1236.60px;top:893.60px;width:225.00px;height:2.20px;background:#000;"></div>
<div class="b" style="left:1236.60px;top:936.20px;width:225.00px;height:2.20px;background:#000;"></div>
<div class="b" style="left:1236.60px;top:978.60px;width:225.00px;height:2.20px;background:#000;"></div>
<div class="t" style="left:1236.39px;top:358.85px;font-size:28.67px;line-height:28.67px;transform:scaleX(0.9569);-webkit-text-stroke:0.50px #fff;">0g</div>
<div class="t" style="left:1418.16px;top:359.25px;font-size:27.82px;line-height:27.82px;font-weight:bold;transform:scaleX(1.0961);-webkit-text-stroke:0.30px #000;">0%</div>
<div class="t" style="left:1236.39px;top:401.65px;font-size:28.67px;line-height:28.67px;transform:scaleX(0.9569);-webkit-text-stroke:0.50px #fff;">0g</div>
<div class="t" style="left:1418.16px;top:402.05px;font-size:27.82px;line-height:27.82px;font-weight:bold;transform:scaleX(1.0961);-webkit-text-stroke:0.30px #000;">0%</div>
<div class="t" style="left:1236.39px;top:444.05px;font-size:28.67px;line-height:28.67px;transform:scaleX(0.9569);-webkit-text-stroke:0.50px #fff;">0g</div>
<div class="t" style="left:1236.36px;top:488.55px;font-size:28.67px;line-height:28.67px;transform:scaleX(0.9750);-webkit-text-stroke:0.50px #fff;">0mg</div>
<div class="t" style="left:1418.16px;top:488.95px;font-size:27.82px;line-height:27.82px;font-weight:bold;transform:scaleX(1.0961);-webkit-text-stroke:0.30px #000;">0%</div>
<div class="t" style="left:1236.34px;top:534.05px;font-size:28.67px;line-height:28.67px;transform:scaleX(0.9706);-webkit-text-stroke:0.50px #fff;">500mg</div>
<div class="t" style="left:1397.96px;top:534.45px;font-size:27.82px;line-height:27.82px;font-weight:bold;transform:scaleX(1.1549);-webkit-text-stroke:0.30px #000;">22%</div>
<div class="t" style="left:1236.39px;top:578.85px;font-size:28.67px;line-height:28.67px;transform:scaleX(0.9771);-webkit-text-stroke:0.50px #fff;">3g</div>
<svg class="b" style="left:1418.20px;top:580.40px;" width="14.94" height="23.60" viewBox="1418.20 580.40 14.94 23.60"><path d="M1426.92,582.40 C1426.02,584.51 1423.73,586.76 1420.20,587.63 L1420.20,591.75 C1422.69,590.99 1424.63,590.09 1425.91,589.33 L1425.91,602.00 L1431.14,602.00 L1431.14,582.40 Z" fill="#000"/></svg>
<div class="t" style="left:1436.84px;top:579.25px;font-size:27.82px;line-height:27.82px;font-weight:bold;transform:scaleX(1.0248);-webkit-text-stroke:0.30px #000;">%</div>
<div class="t" style="left:1236.39px;top:621.85px;font-size:28.67px;line-height:28.67px;transform:scaleX(0.9569);-webkit-text-stroke:0.50px #fff;">0g</div>
<div class="t" style="left:1418.16px;top:622.25px;font-size:27.82px;line-height:27.82px;font-weight:bold;transform:scaleX(1.0961);-webkit-text-stroke:0.30px #000;">0%</div>
<div class="t" style="left:1236.39px;top:664.65px;font-size:28.67px;line-height:28.67px;transform:scaleX(0.9569);-webkit-text-stroke:0.50px #fff;">0g</div>
<div class="t" style="left:1236.39px;top:706.85px;font-size:28.67px;line-height:28.67px;transform:scaleX(0.9569);-webkit-text-stroke:0.50px #fff;">0g</div>
<div class="t" style="left:1418.16px;top:707.25px;font-size:27.82px;line-height:27.82px;font-weight:bold;transform:scaleX(1.0961);-webkit-text-stroke:0.30px #000;">0%</div>
<div class="t" style="left:1236.39px;top:752.15px;font-size:28.67px;line-height:28.67px;transform:scaleX(0.9569);-webkit-text-stroke:0.50px #fff;">0g</div>
<div class="t" style="left:1418.16px;top:752.55px;font-size:27.82px;line-height:27.82px;font-weight:bold;transform:scaleX(1.0961);-webkit-text-stroke:0.30px #000;">0%</div>
<div class="t" style="left:1236.37px;top:817.65px;font-size:28.67px;line-height:28.67px;transform:scaleX(0.9678);-webkit-text-stroke:0.50px #fff;">0mcg</div>
<div class="t" style="left:1422.78px;top:817.65px;font-size:28.67px;line-height:28.67px;transform:scaleX(0.9665);-webkit-text-stroke:0.50px #fff;">0%</div>
<div class="t" style="left:1236.36px;top:860.05px;font-size:28.67px;line-height:28.67px;transform:scaleX(0.9750);-webkit-text-stroke:0.50px #fff;">0mg</div>
<div class="t" style="left:1422.78px;top:860.05px;font-size:28.67px;line-height:28.67px;transform:scaleX(0.9665);-webkit-text-stroke:0.50px #fff;">0%</div>
<div class="t" style="left:1236.38px;top:902.45px;font-size:28.67px;line-height:28.67px;transform:scaleX(0.9630);-webkit-text-stroke:0.50px #fff;">0.4mg</div>
<div class="t" style="left:1422.45px;top:902.45px;font-size:28.67px;line-height:28.67px;transform:scaleX(0.9746);-webkit-text-stroke:0.50px #fff;">2%</div>
<div class="t" style="left:1236.83px;top:944.85px;font-size:28.67px;line-height:28.67px;transform:scaleX(0.9591);-webkit-text-stroke:0.50px #fff;">450mg</div>
<svg class="b" style="left:1408.30px;top:947.20px;" width="10.80" height="23.40" viewBox="1408.30 947.20 10.80 23.40"><path d="M1417.10,949.20 L1415.60,949.20 C1415.20,951.10 1412.90,953.10 1410.30,953.40 L1410.30,955.40 C1412.60,955.20 1414.20,954.20 1414.90,953.20 L1414.90,968.60 L1417.10,968.60 Z" fill="#000"/></svg>
<div class="t" style="left:1422.98px;top:944.85px;font-size:28.67px;line-height:28.67px;transform:scaleX(0.9614);-webkit-text-stroke:0.50px #fff;">0%</div>
<div class="t" style="left:1236.04px;top:987.75px;font-size:28.67px;line-height:28.67px;transform:scaleX(0.9703);-webkit-text-stroke:0.50px #fff;">65mg</div>
<svg class="b" style="left:1408.30px;top:990.10px;" width="10.80" height="23.40" viewBox="1408.30 990.10 10.80 23.40"><path d="M1417.10,992.10 L1415.60,992.10 C1415.20,994.00 1412.90,996.00 1410.30,996.30 L1410.30,998.30 C1412.60,998.10 1414.20,997.10 1414.90,996.10 L1414.90,1011.50 L1417.10,1011.50 Z" fill="#000"/></svg>
<div class="t" style="left:1422.96px;top:987.75px;font-size:28.67px;line-height:28.67px;transform:scaleX(0.9621);-webkit-text-stroke:0.50px #fff;">5%</div>
<div class="b" style="left:20.00px;top:1053.00px;width:356.00px;height:428.00px;background:#99bf27;"></div>
<div class="t" style="left:30.09px;top:1066.20px;font-size:37.21px;line-height:37.21px;font-weight:bold;transform:scaleX(0.9594);color:#fbfdee;-webkit-text-stroke:1.00px #fbfdee;">Lemon Lime</div>
<div class="t" style="left:30.57px;top:1115.20px;font-size:27.04px;line-height:27.04px;transform:scaleX(1.0662);color:#fbfdee;-webkit-text-stroke:1.00px #fbfdee;">Ingredients:</div>
<div class="t" style="left:185.99px;top:1114.40px;font-size:27.62px;line-height:27.62px;transform:scaleX(1.0241);letter-spacing:0.598px;color:#fbfdee;-webkit-text-stroke:0.60px #fbfdee;">Hydration</div>
<div class="t" style="left:30.49px;top:1150.80px;font-size:27.62px;line-height:27.62px;transform:scaleX(0.9700);letter-spacing:0.523px;color:#fbfdee;-webkit-text-stroke:0.60px #fbfdee;">Blend (Trisodium Citrate,</div>
<div class="t" style="left:32.09px;top:1187.20px;font-size:27.62px;line-height:27.62px;transform:scaleX(0.9654);letter-spacing:0.541px;color:#fbfdee;-webkit-text-stroke:0.60px #fbfdee;">Tripotassium Citrate, Sea</div>
<div class="t" style="left:31.48px;top:1223.60px;font-size:27.62px;line-height:27.62px;transform:scaleX(0.9647);letter-spacing:0.500px;color:#fbfdee;-webkit-text-stroke:0.60px #fbfdee;">Salt), Natural Flavors,</div>
<div class="t" style="left:30.47px;top:1260.00px;font-size:27.62px;line-height:27.62px;transform:scaleX(0.9813);letter-spacing:0.534px;color:#fbfdee;-webkit-text-stroke:0.60px #fbfdee;">Brain Nutrient Blend</div>
<div class="t" style="left:31.00px;top:1296.40px;font-size:27.62px;line-height:27.62px;transform:scaleX(0.9918);letter-spacing:0.637px;color:#fbfdee;-webkit-text-stroke:0.60px #fbfdee;">(Magtein® Magnesium</div>
<div class="t" style="left:30.52px;top:1332.80px;font-size:27.62px;line-height:27.62px;transform:scaleX(0.9560);letter-spacing:0.544px;color:#fbfdee;-webkit-text-stroke:0.60px #fbfdee;">L-Threonate, Lion's Mane),</div>
<div class="t" style="left:31.32px;top:1369.20px;font-size:27.62px;line-height:27.62px;transform:scaleX(0.9811);letter-spacing:0.497px;color:#fbfdee;-webkit-text-stroke:0.60px #fbfdee;">Citric Acid, Stevia Plant</div>
<div class="t" style="left:30.43px;top:1405.60px;font-size:27.62px;line-height:27.62px;letter-spacing:0.549px;color:#fbfdee;-webkit-text-stroke:0.60px #fbfdee;">Extract, Beta Carotene</div>
<div class="b" style="left:388.00px;top:1053.00px;width:356.00px;height:428.00px;background:#ee5441;"></div>
<div class="t" style="left:395.20px;top:1066.20px;font-size:37.21px;line-height:37.21px;font-weight:bold;transform:scaleX(1.0052);color:#fffaf6;-webkit-text-stroke:1.00px #fffaf6;">Blood Orange</div>
<div class="t" style="left:395.77px;top:1115.20px;font-size:27.04px;line-height:27.04px;transform:scaleX(1.0662);color:#fffaf6;-webkit-text-stroke:1.00px #fffaf6;">Ingredients:</div>
<div class="t" style="left:551.19px;top:1114.40px;font-size:27.62px;line-height:27.62px;transform:scaleX(1.0241);letter-spacing:0.598px;color:#fffaf6;-webkit-text-stroke:0.60px #fffaf6;">Hydration</div>
<div class="t" style="left:395.69px;top:1150.80px;font-size:27.62px;line-height:27.62px;transform:scaleX(0.9700);letter-spacing:0.523px;color:#fffaf6;-webkit-text-stroke:0.60px #fffaf6;">Blend (Trisodium Citrate,</div>
<div class="t" style="left:397.29px;top:1187.20px;font-size:27.62px;line-height:27.62px;transform:scaleX(0.9654);letter-spacing:0.541px;color:#fffaf6;-webkit-text-stroke:0.60px #fffaf6;">Tripotassium Citrate, Sea</div>
<div class="t" style="left:396.68px;top:1223.60px;font-size:27.62px;line-height:27.62px;transform:scaleX(0.9639);letter-spacing:0.501px;color:#fffaf6;-webkit-text-stroke:0.60px #fffaf6;">Salt), Natural Flavors, Brain</div>
<div class="t" style="left:395.65px;top:1260.00px;font-size:27.62px;line-height:27.62px;transform:scaleX(0.9934);letter-spacing:0.559px;color:#fffaf6;-webkit-text-stroke:0.60px #fffaf6;">Nutrient Blend (Magtein®</div>
<div class="t" style="left:395.67px;top:1296.40px;font-size:27.62px;line-height:27.62px;transform:scaleX(0.9811);letter-spacing:0.604px;color:#fffaf6;-webkit-text-stroke:0.60px #fffaf6;">Magnesium L-Threonate,</div>
<div class="t" style="left:395.70px;top:1332.80px;font-size:27.62px;line-height:27.62px;transform:scaleX(0.9654);letter-spacing:0.501px;color:#fffaf6;-webkit-text-stroke:0.60px #fffaf6;">Lion's Mane), Citric Acid,</div>
<div class="t" style="left:397.77px;top:1369.20px;font-size:27.62px;line-height:27.62px;transform:scaleX(0.9745);letter-spacing:0.559px;color:#fffaf6;-webkit-text-stroke:0.60px #fffaf6;">Vegetable Juice (For</div>
<div class="t" style="left:396.53px;top:1405.60px;font-size:27.62px;line-height:27.62px;transform:scaleX(0.9681);letter-spacing:0.520px;color:#fffaf6;-webkit-text-stroke:0.60px #fffaf6;">Color), Stevia Plant</div>
<div class="t" style="left:395.63px;top:1442.00px;font-size:27.62px;line-height:27.62px;transform:scaleX(1.0017);letter-spacing:0.549px;color:#fffaf6;-webkit-text-stroke:0.60px #fffaf6;">Extract, Beta Carotene</div>
<div class="b" style="left:756.00px;top:1053.00px;width:356.00px;height:428.00px;background:#f7a11e;"></div>
<div class="t" style="left:762.78px;top:1066.20px;font-size:37.21px;line-height:37.21px;font-weight:bold;transform:scaleX(1.0164);color:#fffcf2;-webkit-text-stroke:1.00px #fffcf2;">Peach Mango</div>
<div class="t" style="left:763.37px;top:1115.20px;font-size:27.04px;line-height:27.04px;transform:scaleX(1.0662);color:#fffcf2;-webkit-text-stroke:1.00px #fffcf2;">Ingredients:</div>
<div class="t" style="left:918.79px;top:1114.40px;font-size:27.62px;line-height:27.62px;transform:scaleX(1.0241);letter-spacing:0.598px;color:#fffcf2;-webkit-text-stroke:0.60px #fffcf2;">Hydration</div>
<div class="t" style="left:763.29px;top:1150.80px;font-size:27.62px;line-height:27.62px;transform:scaleX(0.9700);letter-spacing:0.523px;color:#fffcf2;-webkit-text-stroke:0.60px #fffcf2;">Blend (Trisodium Citrate,</div>
<div class="t" style="left:764.89px;top:1187.20px;font-size:27.62px;line-height:27.62px;transform:scaleX(0.9654);letter-spacing:0.541px;color:#fffcf2;-webkit-text-stroke:0.60px #fffcf2;">Tripotassium Citrate, Sea</div>
<div class="t" style="left:764.28px;top:1223.60px;font-size:27.62px;line-height:27.62px;transform:scaleX(0.9639);letter-spacing:0.501px;color:#fffcf2;-webkit-text-stroke:0.60px #fffcf2;">Salt), Natural Flavors, Brain</div>
<div class="t" style="left:763.25px;top:1260.00px;font-size:27.62px;line-height:27.62px;transform:scaleX(0.9934);letter-spacing:0.559px;color:#fffcf2;-webkit-text-stroke:0.60px #fffcf2;">Nutrient Blend (Magtein®</div>
<div class="t" style="left:763.27px;top:1296.40px;font-size:27.62px;line-height:27.62px;transform:scaleX(0.9811);letter-spacing:0.604px;color:#fffcf2;-webkit-text-stroke:0.60px #fffcf2;">Magnesium L-Threonate,</div>
<div class="t" style="left:763.30px;top:1332.80px;font-size:27.62px;line-height:27.62px;transform:scaleX(0.9654);letter-spacing:0.501px;color:#fffcf2;-webkit-text-stroke:0.60px #fffcf2;">Lion's Mane), Citric Acid,</div>
<div class="t" style="left:764.26px;top:1369.20px;font-size:27.62px;line-height:27.62px;transform:scaleX(0.9809);letter-spacing:0.521px;color:#fffcf2;-webkit-text-stroke:0.60px #fffcf2;">Stevia Plant Extract, Beta</div>
<div class="t" style="left:764.10px;top:1405.60px;font-size:27.62px;line-height:27.62px;transform:scaleX(0.9949);letter-spacing:0.562px;color:#fffcf2;-webkit-text-stroke:0.60px #fffcf2;">Carotene, Vegetable Juice</div>
<div class="t" style="left:763.87px;top:1442.00px;font-size:27.62px;line-height:27.62px;transform:scaleX(0.9405);letter-spacing:0.544px;color:#fffcf2;-webkit-text-stroke:0.60px #fffcf2;">(For Color)</div>
<div class="b" style="left:1124.00px;top:1053.00px;width:356.00px;height:428.00px;background:#e1167f;"></div>
<div class="t" style="left:1130.46px;top:1066.20px;font-size:37.21px;line-height:37.21px;font-weight:bold;transform:scaleX(0.9754);color:#fff8fb;-webkit-text-stroke:1.00px #fff8fb;">Blueberry Pom.</div>
<div class="t" style="left:1130.97px;top:1115.20px;font-size:27.04px;line-height:27.04px;transform:scaleX(1.0662);color:#fff8fb;-webkit-text-stroke:1.00px #fff8fb;">Ingredients:</div>
<div class="t" style="left:1286.39px;top:1114.40px;font-size:27.62px;line-height:27.62px;transform:scaleX(1.0241);letter-spacing:0.598px;color:#fff8fb;-webkit-text-stroke:0.60px #fff8fb;">Hydration</div>
<div class="t" style="left:1130.89px;top:1150.80px;font-size:27.62px;line-height:27.62px;transform:scaleX(0.9700);letter-spacing:0.523px;color:#fff8fb;-webkit-text-stroke:0.60px #fff8fb;">Blend (Trisodium Citrate,</div>
<div class="t" style="left:1132.49px;top:1187.20px;font-size:27.62px;line-height:27.62px;transform:scaleX(0.9654);letter-spacing:0.541px;color:#fff8fb;-webkit-text-stroke:0.60px #fff8fb;">Tripotassium Citrate, Sea</div>
<div class="t" style="left:1131.88px;top:1223.60px;font-size:27.62px;line-height:27.62px;transform:scaleX(0.9639);letter-spacing:0.501px;color:#fff8fb;-webkit-text-stroke:0.60px #fff8fb;">Salt), Natural Flavors, Brain</div>
<div class="t" style="left:1130.85px;top:1260.00px;font-size:27.62px;line-height:27.62px;transform:scaleX(0.9934);letter-spacing:0.559px;color:#fff8fb;-webkit-text-stroke:0.60px #fff8fb;">Nutrient Blend (Magtein®</div>
<div class="t" style="left:1130.87px;top:1296.40px;font-size:27.62px;line-height:27.62px;transform:scaleX(0.9811);letter-spacing:0.604px;color:#fff8fb;-webkit-text-stroke:0.60px #fff8fb;">Magnesium L-Threonate,</div>
<div class="t" style="left:1130.90px;top:1332.80px;font-size:27.62px;line-height:27.62px;transform:scaleX(0.9654);letter-spacing:0.501px;color:#fff8fb;-webkit-text-stroke:0.60px #fff8fb;">Lion's Mane), Citric Acid,</div>
<div class="t" style="left:1130.83px;top:1369.20px;font-size:27.62px;line-height:27.62px;transform:scaleX(1.0018);letter-spacing:0.539px;color:#fff8fb;-webkit-text-stroke:0.60px #fff8fb;">Fruit and Vegetable Juice</div>
<div class="t" style="left:1131.45px;top:1405.60px;font-size:27.62px;line-height:27.62px;transform:scaleX(0.9555);letter-spacing:0.512px;color:#fff8fb;-webkit-text-stroke:0.60px #fff8fb;">(For Color), Stevia Plant</div>
<div class="t" style="left:1130.81px;top:1442.00px;font-size:27.62px;line-height:27.62px;transform:scaleX(1.0117);letter-spacing:0.584px;color:#fff8fb;-webkit-text-stroke:0.60px #fff8fb;">Extract</div>
</div>
</body></html>
